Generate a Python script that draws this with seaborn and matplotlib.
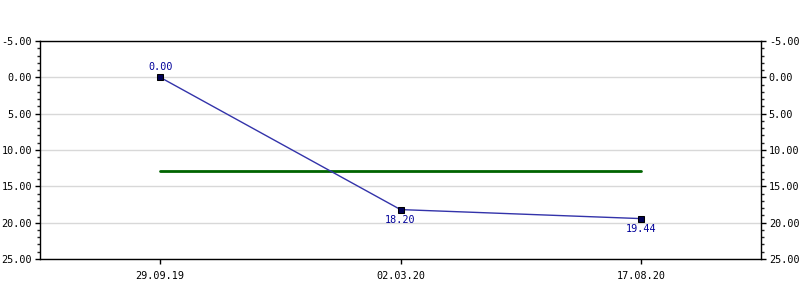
import matplotlib
matplotlib.use("Agg")
import matplotlib.pyplot as plt
import seaborn as sns
import pandas as pd
from matplotlib.ticker import MultipleLocator, FormatStrFormatter

dates = ["29.09.19", "02.03.20", "17.08.20"]
values = [0.00, 18.20, 19.44]
avg_value = 12.88

sns.set_theme(style="white")
plt.rcParams['font.family'] = ['DejaVu Sans Mono', 'DejaVu Sans']

df = pd.DataFrame({"date": dates, "value": values, "x": range(len(dates))})

fig = plt.figure(figsize=(8, 3), dpi=100)
ax = fig.add_axes([40/800, 41/300, 721/800, 218/300])

ax.plot([df["x"].iloc[0], df["x"].iloc[-1]], [avg_value, avg_value], color="#006400", lw=2, zorder=2)
sns.lineplot(data=df, x="x", y="value", ax=ax, color="#3333aa", lw=1, zorder=3,
             marker="s", markersize=4.5, markerfacecolor="#000055", markeredgecolor="#000000")

for i, v in enumerate(values):
    if i == 0:
        ax.annotate(f"{v:.2f}", (i, v), xytext=(0, 4), textcoords="offset points",
                    ha="center", va="bottom", color="#000099", fontsize=7.3)
    else:
        ax.annotate(f"{v:.2f}", (i, v), xytext=(0, -4), textcoords="offset points",
                    ha="center", va="top", color="#000099", fontsize=7.3)

ax.set_xlim(-0.5, 2.5)
ax.set_ylim(25, -5)
ax.set_xticks(range(len(dates)))
ax.set_xticklabels(dates)
ax.yaxis.set_major_locator(MultipleLocator(5))
ax.yaxis.set_minor_locator(MultipleLocator(1))
ax.yaxis.set_major_formatter(FormatStrFormatter("%.2f"))
ax.tick_params(axis="both", which="major", direction="out", length=3.6, width=1, colors="black",
               labelsize=7.3, pad=2, left=True, right=True, bottom=True, labelright=True)
ax.tick_params(axis="x", which="major", pad=5)
ax.tick_params(axis="y", which="minor", direction="out", length=2.5, width=1, left=True, right=True)
ax.grid(axis="y", which="major", color="#d8d8d8", lw=1)
ax.set_axisbelow(True)
ax.set_xlabel("")
ax.set_ylabel("")
for s in ax.spines.values():
    s.set_color("black")
    s.set_linewidth(1)
    s.set_visible(True)

fig.savefig("out.png", dpi=100, facecolor="white")
